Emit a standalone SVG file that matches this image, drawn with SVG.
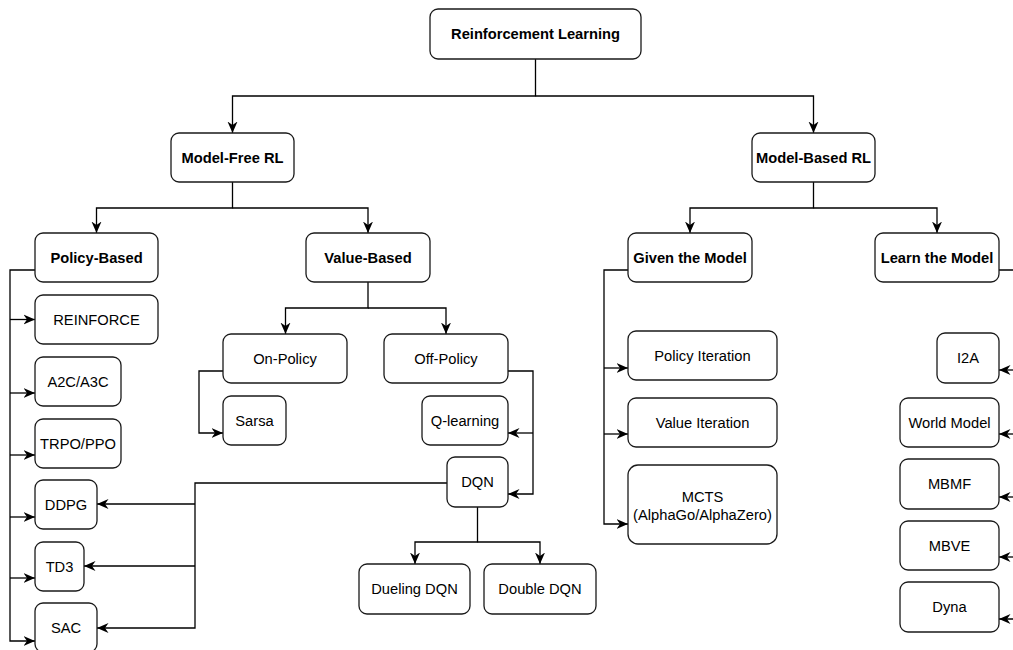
<svg xmlns="http://www.w3.org/2000/svg" width="1013" height="650" viewBox="0 0 1013 650">
<style>
.n rect{fill:#fff;stroke:#1a1a1a;stroke-width:1.3}
.n text{font-family:"Liberation Sans",Arial,sans-serif;font-size:14.7px;fill:#000;text-anchor:middle;dominant-baseline:central}
.b text{font-weight:bold}
.c path{fill:none;stroke:#000;stroke-width:1.3}
.c .a{marker-end:url(#ah)}
</style>
<defs>
<marker id="ah" markerUnits="userSpaceOnUse" markerWidth="12" markerHeight="11" viewBox="0 0 12 11" refX="11.5" refY="5.5" orient="auto">
<path d="M0,0.5 L11.5,5.5 L0,10.5 L3.5,5.5 Z" fill="#000"/>
</marker>
</defs>
<rect width="1013" height="650" fill="#fff"/>
<g id="connectors" class="c">
<path d="M535.5,59 V96 H232.5 V133" class="a"/>
<path d="M535.5,96 H813.5 V133" class="a"/>
<path d="M232.5,182 V208 H96.5 V233" class="a"/>
<path d="M232.5,208 H368 V233" class="a"/>
<path d="M813.5,182 V208 H690 V233" class="a"/>
<path d="M813.5,208 H937 V233" class="a"/>
<path d="M35,270 H10 V641 H35" class="a"/>
<path d="M10,319.5 H35" class="a"/>
<path d="M10,393 H35" class="a"/>
<path d="M10,455 H35" class="a"/>
<path d="M10,517 H35" class="a"/>
<path d="M10,578 H35" class="a"/>
<path d="M368,282 V308 H285.5 V334" class="a"/>
<path d="M368,308 H446 V334" class="a"/>
<path d="M223,371 H199 V433 H223" class="a"/>
<path d="M508,371 H533 V494 H508" class="a"/>
<path d="M533,433 H508" class="a"/>
<path d="M447,483 H195 V628 H97" class="a"/>
<path d="M195,504 H97" class="a"/>
<path d="M195,566 H84" class="a"/>
<path d="M477.5,507 V542 H415 V564" class="a"/>
<path d="M477.5,542 H540 V564" class="a"/>
<path d="M628,270 H604 V524 H628" class="a"/>
<path d="M604,368 H628" class="a"/>
<path d="M604,434 H628" class="a"/>
<path d="M999,270 H1025 V619 H999" class="a"/>
<path d="M1025,370 H999" class="a"/>
<path d="M1025,434 H999" class="a"/>
<path d="M1025,497 H999" class="a"/>
<path d="M1025,557 H999" class="a"/>
</g>
<g id="rl" class="n b"><rect x="430" y="9" width="211" height="50" rx="8"/><text x="535.5" y="34">Reinforcement Learning</text></g>
<g id="model-free" class="n b"><rect x="171" y="133" width="123" height="49" rx="8"/><text x="232.5" y="157.5">Model-Free RL</text></g>
<g id="model-based" class="n b"><rect x="752" y="133" width="123" height="49" rx="8"/><text x="813.5" y="157.5">Model-Based RL</text></g>
<g id="policy-based" class="n b"><rect x="35" y="233" width="123" height="49" rx="8"/><text x="96.5" y="257.5">Policy-Based</text></g>
<g id="value-based" class="n b"><rect x="306" y="233" width="124" height="49" rx="8"/><text x="368" y="257.5">Value-Based</text></g>
<g id="given-model" class="n b"><rect x="628" y="233" width="124" height="49" rx="8"/><text x="690" y="257.5">Given the Model</text></g>
<g id="learn-model" class="n b"><rect x="875" y="233" width="124" height="49" rx="8"/><text x="937" y="257.5">Learn the Model</text></g>
<g id="reinforce" class="n"><rect x="35" y="295" width="123" height="49" rx="8"/><text x="96.5" y="319.5">REINFORCE</text></g>
<g id="a2c" class="n"><rect x="35" y="357" width="86" height="49" rx="8"/><text x="78" y="381.5">A2C/A3C</text></g>
<g id="trpo" class="n"><rect x="35" y="419" width="86" height="49" rx="8"/><text x="78" y="443.5">TRPO/PPO</text></g>
<g id="ddpg" class="n"><rect x="35" y="480" width="62" height="49" rx="8"/><text x="66" y="504.5">DDPG</text></g>
<g id="td3" class="n"><rect x="35" y="542" width="49" height="49" rx="8"/><text x="59.5" y="566.5">TD3</text></g>
<g id="sac" class="n"><rect x="35" y="603" width="62" height="49" rx="8"/><text x="66" y="627.5">SAC</text></g>
<g id="on-policy" class="n"><rect x="223" y="334" width="124" height="49" rx="8"/><text x="285" y="358.5">On-Policy</text></g>
<g id="off-policy" class="n"><rect x="384" y="334" width="124" height="49" rx="8"/><text x="446" y="358.5">Off-Policy</text></g>
<g id="sarsa" class="n"><rect x="223" y="396" width="63" height="49" rx="8"/><text x="254.5" y="420.5">Sarsa</text></g>
<g id="q-learning" class="n"><rect x="422" y="396" width="86" height="49" rx="8"/><text x="465" y="420.5">Q-learning</text></g>
<g id="dqn" class="n"><rect x="447" y="457" width="61" height="50" rx="8"/><text x="477.5" y="482">DQN</text></g>
<g id="dueling-dqn" class="n"><rect x="359" y="564" width="111" height="50" rx="8"/><text x="414.5" y="589">Dueling DQN</text></g>
<g id="double-dqn" class="n"><rect x="484" y="564" width="112" height="50" rx="8"/><text x="540" y="589">Double DQN</text></g>
<g id="policy-iteration" class="n"><rect x="628" y="331" width="149" height="49" rx="8"/><text x="702.5" y="355.5">Policy Iteration</text></g>
<g id="value-iteration" class="n"><rect x="628" y="398" width="149" height="49" rx="8"/><text x="702.5" y="422.5">Value Iteration</text></g>
<g id="mcts" class="n"><rect x="628" y="465" width="149" height="79" rx="10"/><text x="702.5" y="496.5">MCTS</text><text x="702.5" y="515">(AlphaGo/AlphaZero)</text></g>
<g id="i2a" class="n"><rect x="937" y="333" width="62" height="50" rx="8"/><text x="968" y="358">I2A</text></g>
<g id="world-model" class="n"><rect x="900" y="398" width="99" height="49" rx="8"/><text x="949.5" y="422.5">World Model</text></g>
<g id="mbmf" class="n"><rect x="900" y="459" width="99" height="50" rx="8"/><text x="949.5" y="484">MBMF</text></g>
<g id="mbve" class="n"><rect x="900" y="521" width="99" height="49" rx="8"/><text x="949.5" y="545.5">MBVE</text></g>
<g id="dyna" class="n"><rect x="900" y="582" width="99" height="50" rx="8"/><text x="949.5" y="607">Dyna</text></g>
</svg>
